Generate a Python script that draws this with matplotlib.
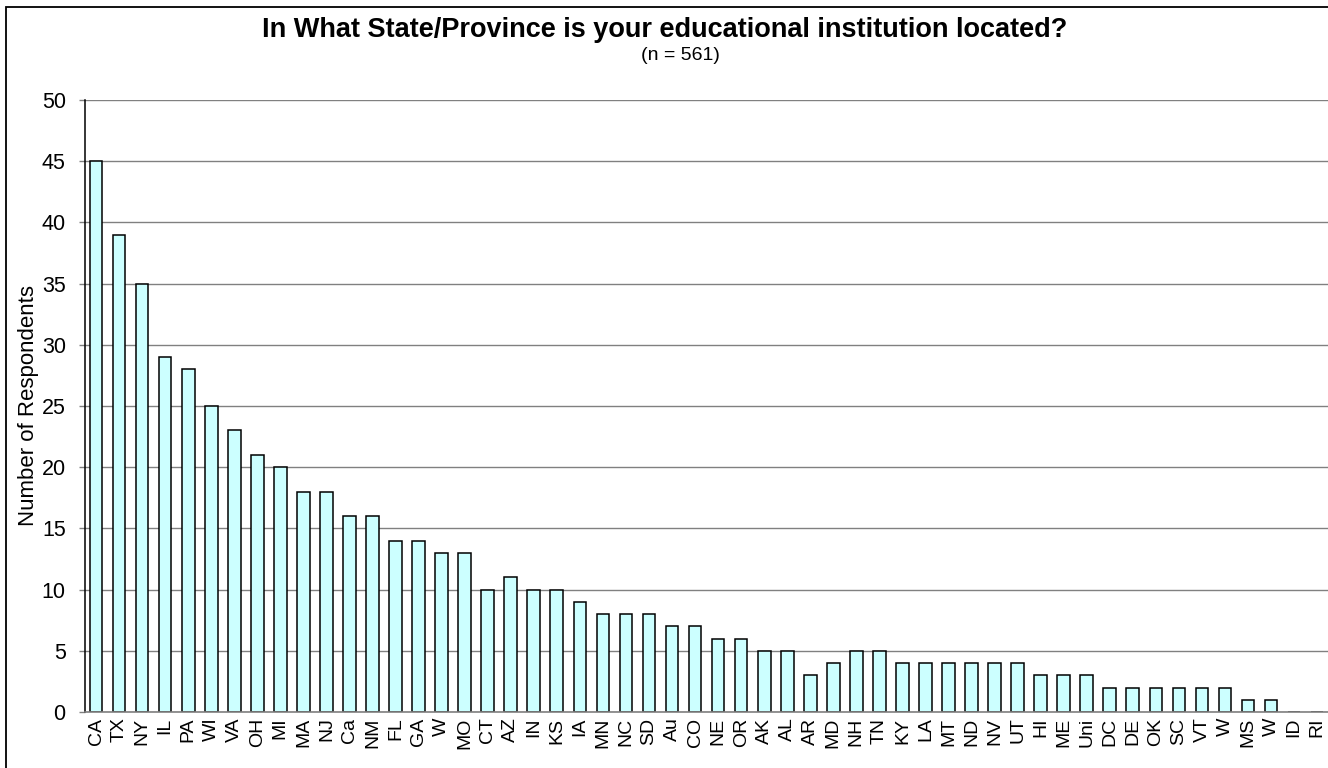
import matplotlib
matplotlib.use("Agg")
import matplotlib.pyplot as plt
from matplotlib.patches import Rectangle

plt.rcParams['font.family'] = ['Liberation Sans', 'DejaVu Sans']

states = ["CA", "TX", "NY", "IL", "PA", "WI", "VA", "OH", "MI", "MA", "NJ", "Ca",
          "NM", "FL", "GA", "W", "MO", "CT", "AZ", "IN", "KS", "IA", "MN", "NC",
          "SD", "Au", "CO", "NE", "OR", "AK", "AL", "AR", "MD", "NH", "TN", "KY",
          "LA", "MT", "ND", "NV", "UT", "HI", "ME", "Uni", "DC", "DE", "OK", "SC",
          "VT", "W", "MS", "W", "ID", "RI"]
respondents = [45, 39, 35, 29, 28, 25, 23, 21, 20, 18, 18, 16,
               16, 14, 14, 13, 13, 10, 11, 10, 10, 9, 8, 8,
               8, 7, 7, 6, 6, 5, 5, 3, 4, 5, 5, 4,
               4, 4, 4, 4, 4, 3, 3, 3, 2, 2, 2, 2,
               2, 2, 1, 1, 0, 0]
y_ticks = [0, 5, 10, 15, 20, 25, 30, 35, 40, 45, 50]

W, H = 1328, 768
fig = plt.figure(figsize=(W / 100, H / 100), dpi=100)

# Outer chart frame
fig.patches.append(Rectangle((6 / W, -0.05), 1.2, 1 - 7 / H + 0.05,
                             transform=fig.transFigure, fill=False,
                             edgecolor='black', linewidth=1.3, zorder=0))

ax = fig.add_axes([84.5 / W, 1 - 712 / H, 1 - 84.5 / W + 0.0005, (712 - 100) / H])
x = range(len(states))
ax.bar(x, respondents, width=0.55, color='#CCFFFF', edgecolor='black',
       linewidth=1.1, zorder=3)

ax.set_xlim(-0.5, len(states) - 0.5)
ax.set_ylim(0, 50)
ax.set_yticks(y_ticks)
ax.set_yticklabels([str(t) for t in y_ticks], fontsize=15.5)
ax.set_xticks(list(x))
ax.set_xticklabels(states, rotation=90, fontsize=14)
ax.tick_params(axis='x', length=0, pad=4)
ax.tick_params(axis='y', direction='out', length=4.5, width=1, color='#808080', pad=9)

ax.grid(axis='y', color='#808080', linewidth=1, zorder=0)
ax.set_axisbelow(True)
for side in ('top', 'right'):
    ax.spines[side].set_visible(False)
ax.spines['left'].set_color('black')
ax.spines['left'].set_linewidth(1.1)
ax.spines['bottom'].set_color('#808080')
ax.spines['bottom'].set_linewidth(1.2)
ax.spines['bottom'].set_zorder(5)

ax.set_ylabel("Number of Respondents", fontsize=16, labelpad=2)

fig.text(665 / W, 1 - 30 / H, "In What State/Province is your educational institution located?",
         ha='center', va='center', fontsize=19.5, fontweight='bold')
fig.text(680 / W, 1 - 55 / H, "(n = 561)", ha='center', va='center', fontsize=14)

fig.savefig("out.png", dpi=100)
